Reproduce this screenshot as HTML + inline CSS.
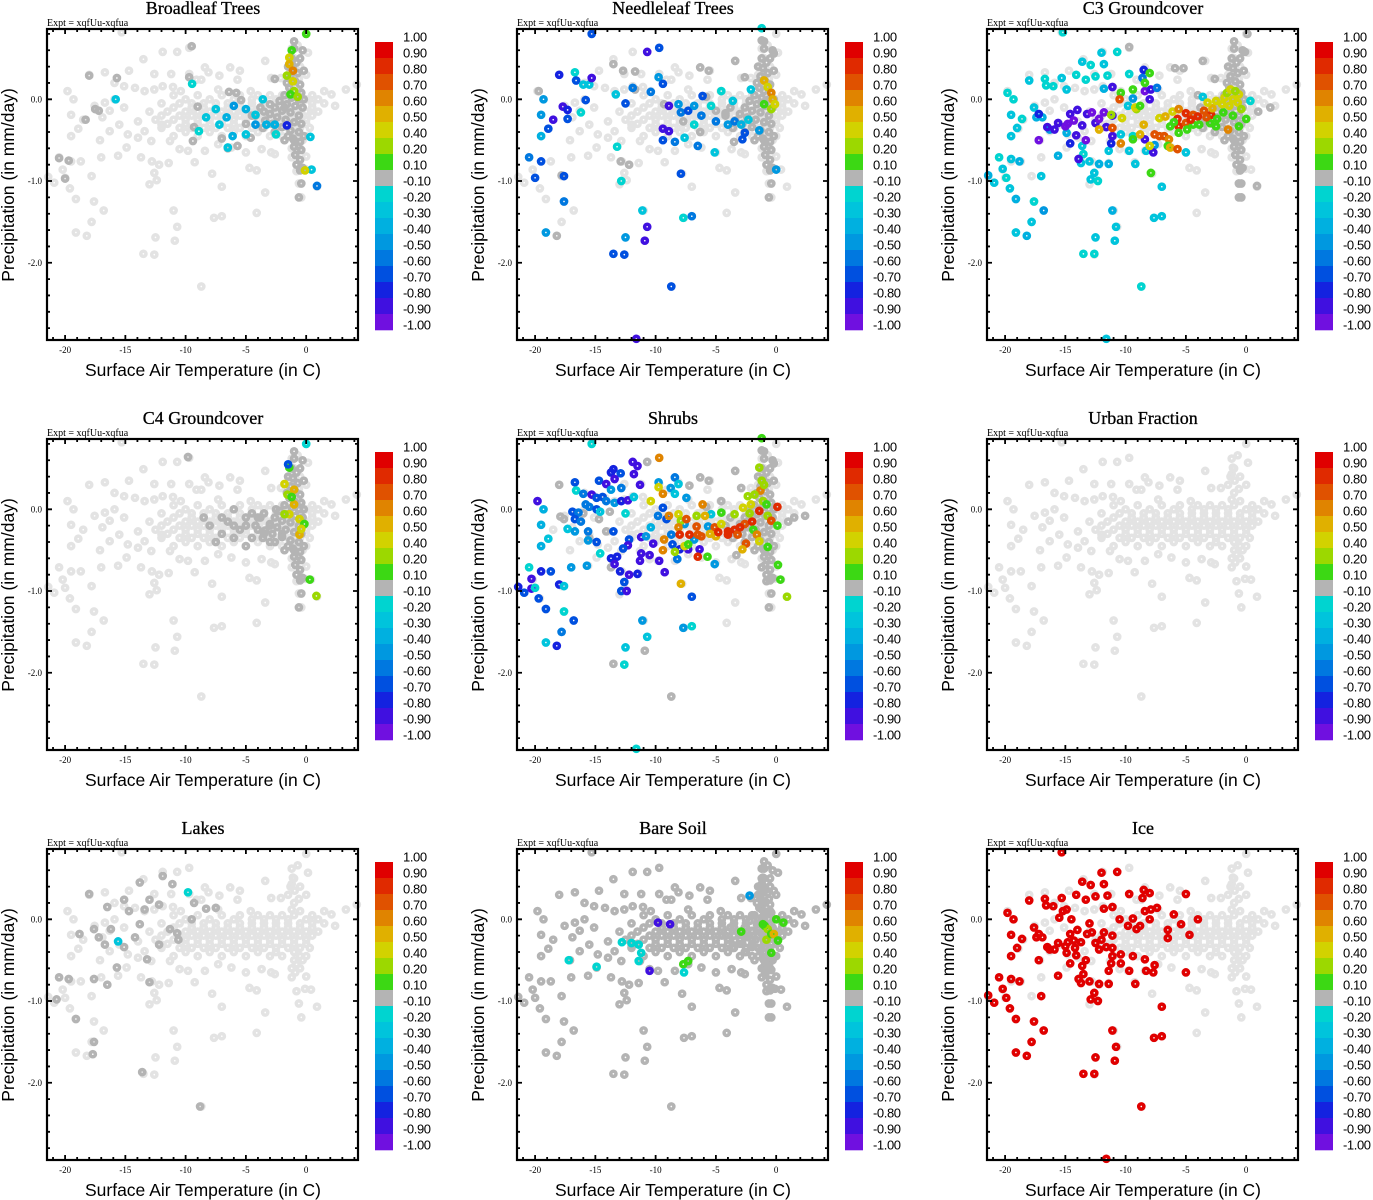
<!DOCTYPE html>
<html><head><meta charset="utf-8"><style>
html,body{margin:0;padding:0;background:#fff;}
svg{display:block;}
</style></head><body>
<svg id="fig" width="1373" height="1200" xmlns="http://www.w3.org/2000/svg"></svg>
<script>
// ---- data (temperature C, precipitation mm/day, correlation value) ----
const baseCloud = [[-15.3,0.82],[0.0,0.80],[-9.7,0.63],[-11.9,0.58],[-10.7,0.58],[-1.2,0.62],[0.15,0.57],[-13.5,0.49],[-3.4,0.47],[-18.0,0.30],[-16.7,0.33],[-14.7,0.35],[-8.4,0.39],[-7.2,0.29],[-6.3,0.39],[-5.5,0.35],[-19.8,0.10],[-19.3,0.0],[-19.5,-0.19],[-18.5,-0.25],[-18.9,-0.36],[-19.5,-0.45],[-17.1,-0.50],[-20.5,-0.71],[-19.5,-0.76],[-18.7,-0.76],[-20.2,-0.86],[-21.4,-0.95],[-20.9,-1.02],[-20.0,-0.96],[-19.6,-1.09],[-19.1,-1.22],[-17.6,-1.25],[-17.8,-0.94],[-16.8,-1.36],[-17.8,-1.50],[-19.1,-1.63],[-18.2,-1.67],[-17.0,-0.71],[-15.6,-0.69],[-14.9,-0.59],[-13.7,-0.71],[-12.8,-0.76],[-12.2,-0.80],[-11.4,-0.78],[-12.6,-0.90],[-12.4,-0.99],[-13.0,-1.04],[-11.0,-1.36],[-10.7,-1.56],[-10.9,-1.73],[-12.5,-1.69],[-13.5,-1.89],[-12.6,-1.90],[-8.7,-2.29],[-9.25,-0.77],[-7.8,-0.91],[-7.0,-1.07],[-7.65,-1.45],[-7.0,-1.43],[-4.7,-0.84],[-4.1,-0.87],[-3.4,-1.14],[-4.1,-1.39],[-5.0,-0.65],[-2.6,-0.67],[-1.2,-0.71],[-0.8,-0.88],[-0.6,-1.03],[-0.4,-1.20],[0.9,-1.07],[0.4,-0.86],[-0.1,-0.85],[2.4,-0.08],[3.3,0.12],[4.2,0.18],[2.1,0.06],[1.5,0.10],[-10.4,0.10],[-9.7,0.31],[-11.2,0.31],[-12.6,0.31],[-9.1,0.24],[-8.7,0.24],[-8.1,0.33],[-7.3,0.12],[-5.7,0.24],[-4.6,0.10],[-2.9,0.26],[-2.1,0.26],[-1.2,0.43],[-1.1,0.51],[-0.95,0.35],[-15.9,0.20],[-15.1,0.16],[-14.2,0.14],[-13.4,0.10],[-12.6,0.12],[-11.9,0.16],[-11.05,0.15],[-17.55,-0.08],[-16.7,-0.04],[-15.9,0.0],[-15.1,-0.10],[-16.3,-0.14],[-16.9,-0.22],[-15.5,-0.31],[-16.3,-0.39],[-14.8,-0.43],[-13.95,-0.27],[-13.4,-0.39],[-12.85,-0.51],[-13.95,-0.47],[-12.0,-0.31],[-11.3,-0.51],[-10.5,-0.61],[-9.8,-0.63],[-8.4,-0.63],[-7.3,-0.55],[-6.2,-0.59],[-3.7,-0.61],[-2.9,-0.65],
[-11,0.05],[-9,0.05],[-7,0.05],[-5.5,0.05],[-4,0.05],[-3,0.05],[-2,0.05],[-1,0.05],[0.5,0.05],
[-12,-0.05],[-10.5,-0.05],[-9.5,-0.05],[-8.5,-0.05],[-7.5,-0.05],[-6.5,-0.05],[-5.5,-0.05],[-4.5,-0.05],[-3.5,-0.05],[-2.5,-0.05],[-1.5,-0.05],[-0.5,-0.05],[0.5,-0.05],[1.5,-0.05],
[-13,-0.15],[-11.5,-0.15],[-10,-0.15],[-9,-0.15],[-8,-0.15],[-7,-0.15],[-6,-0.15],[-5,-0.15],[-4,-0.15],[-3,-0.15],[-2,-0.15],[-1,-0.15],[0,-0.15],[1,-0.15],
[-12.5,-0.25],[-11,-0.25],[-10,-0.25],[-9,-0.25],[-8,-0.25],[-7,-0.25],[-6,-0.25],[-5,-0.25],[-4,-0.25],[-3,-0.25],[-2,-0.25],[-1,-0.25],[0,-0.25],
[-12,-0.35],[-10.5,-0.35],[-9.5,-0.35],[-8.5,-0.35],[-7.5,-0.35],[-6.5,-0.35],[-5.5,-0.35],[-4.5,-0.35],[-3.5,-0.35],[-2.5,-0.35],[-1.5,-0.35],[-0.5,-0.35],[0.3,-0.35],
[-11,-0.45],[-9,-0.45],[-7,-0.45],[-5,-0.45],[-3,-0.45],[-2,-0.45],[-0.5,-0.45],
[-10,0.0],[-8,0.0],[-6,0.0],[-4.5,0.0],[-3.5,0.0],[-2.5,0.0],[-1.5,0.0],[0,0.0],[1,0.0],
[-11,-0.1],[-9.5,-0.1],[-8.5,-0.1],[-7.5,-0.1],[-6.5,-0.1],[-5.5,-0.1],[-4.5,-0.1],[-3.5,-0.1],[-2.5,-0.1],[-1.5,-0.1],[-0.5,-0.1],[0.5,-0.1],
[-12,-0.2],[-10.5,-0.2],[-9.5,-0.2],[-8.5,-0.2],[-7.5,-0.2],[-6.5,-0.2],[-5.5,-0.2],[-4.5,-0.2],[-3.5,-0.2],[-2.5,-0.2],[-1.5,-0.2],[-0.5,-0.2],[0.5,-0.2],
[-11.5,-0.3],[-10,-0.3],[-9,-0.3],[-8,-0.3],[-7,-0.3],[-6,-0.3],[-5,-0.3],[-4,-0.3],[-3,-0.3],[-2,-0.3],[-1,-0.3],[0,-0.3],
[-10,-0.4],[-8,-0.4],[-6,-0.4],[-4,-0.4],[-2.5,-0.4],[-1,-0.4],[0,-0.45],
[-1,0.5],[-0.5,0.4],[0,0.3],[-1,0.2],[-0.5,0.1],[-1,-0.5],[-0.5,-0.6],[0,-0.7],[-1.5,0.3],[-0.7,0.66],[-1.3,0.4],[-0.6,0.25],[-1.2,0.12],[-0.8,-0.55],[-0.9,-0.65],[-0.3,-0.5],[-1.2,-0.6]];

const spikeGray = [[-1,0.62],[-1.2,0.5],[-0.8,0.45],[-1.1,0.38],[-0.7,0.32],[-1.3,0.28],[-0.9,0.22],[-0.5,0.18],[-1.4,0.14],[-1,0.1],[-0.4,0.08],[-1.8,0.05],[-1.2,0.02],[-0.6,0],[-2.2,-0.02],[-1.6,-0.06],[-0.9,-0.08],[-0.3,-0.1],[-2.6,-0.1],[-2,-0.14],[-1.3,-0.16],[-0.6,-0.2],[-3,-0.18],[-2.4,-0.22],[-1.7,-0.25],[-1,-0.28],[-0.4,-0.3],[-3.4,-0.26],[-2.8,-0.3],[-2,-0.34],[-1.3,-0.38],[-0.6,-0.4],[-1.1,-0.48],[-0.5,-0.52],[-1,-0.58],[-0.4,-0.62],[-0.9,-0.68],[-0.5,-0.74],[-0.8,-0.8],[-0.3,-0.84],[-1.0,-0.5],[-1.5,-0.45],[-3.8,-0.1],[-4.2,-0.2],[-3.6,-0.35],[-1.0,0.71],[-0.3,0.6],[-0.4,-1.03],[-0.6,-1.2],[-0.5,-0.87],[-0.5,0.5],[-1.5,0.4],[-0.2,0.35],[-1.6,0.2],[-0.2,0.0],[-2.6,-0.4],[-1.8,-0.5],[-0.2,-0.45]];

const broadleafGray = [[-9.5,0.65],[-18,0.29],[-15.7,0.26],[-17.5,-0.12],[-17.2,-0.14],[-18.3,-0.25],[-20.5,-0.72],[-19.7,-0.75],[-20,-0.97],[-9.7,0.27],[-6.4,0.09],[-9.0,-0.09],[-9.3,-0.34],[-9.4,-0.51],[-7.0,-0.48],[-5.7,-0.57],[-6.5,-0.6],[-4.6,-0.47],[-2.6,0.25],[-5.8,0.08],[-5.4,-0.01],[-3.0,-0.06],[-1.8,-0.1],[-5,-0.3],[-4.5,-0.2],[-3.5,-0.15]];
const broadleafPts = [[-9.46,0.19,-0.2],[-15.8,0.0,-0.25],[-8.3,-0.22,-0.3],[-7.5,-0.12,-0.3],[-8.9,-0.39,-0.2],[-7.2,-0.31,-0.3],[-6.6,-0.22,-0.35],[-6.1,-0.45,-0.4],[-6.0,-0.08,-0.45],[-5.0,-0.12,-0.4],[-5.0,-0.43,-0.3],[-4.2,-0.31,-0.5],[-3.6,0.0,-0.3],[-3.3,-0.31,-0.4],[-2.6,-0.31,-0.35],[-2.5,-0.43,-0.2],[-6.5,-0.59,-0.3],[-1.6,-0.32,-0.8],[0.35,-0.46,-0.25],[0.9,-1.06,-0.55],[0.45,-0.86,-0.3],[-0.1,-0.87,0.45],[0.0,0.80,0.1],[-1.2,0.60,0.15],[-1.4,0.51,0.45],[-1.4,0.43,0.5],[-1.1,0.35,0.6],[-1.6,0.29,0.25],[-1.1,0.22,0.45],[-1.0,0.10,0.2],[-1.3,0.06,0.15],[-0.7,0.03,0.25],[-4.2,-0.19,-0.25]];

const needleGray = [[-19.7,0.1],[-17.8,-0.93],[-18.2,-1.67],[-13.5,0.43],[-12.7,0.35],[-11.7,0.34],[-11.7,0.12],[-12.9,-0.76],[-12.2,-0.8],[-9.3,-0.06],[-6.3,0.39],[-5.6,0.35],[-5.8,0.03],[-3.4,0.47],[-1.2,0.72],[-0.2,0.56],[-2.6,0.27],[-4.2,-0.17],[-5.0,-0.14],[-6.3,-0.4],[-3.5,-0.52],[-7.7,-0.27]];
const needlePts = [[-15.3,0.80,-0.65],[-10.7,0.58,-0.85],[-9.7,0.63,-0.7],[-18.0,0.30,-0.8],[-16.7,0.33,-0.2],[-16.6,0.23,-0.7],[-16.0,0.18,-0.25],[-15.5,0.18,-0.3],[-15.3,0.26,-0.85],[-19.3,0.0,-0.5],[-19.5,-0.19,-0.45],[-18.5,-0.25,-0.9],[-17.7,-0.09,-0.85],[-17.3,-0.13,-0.8],[-17.3,-0.24,-0.65],[-18.9,-0.36,-0.7],[-19.5,-0.45,-0.4],[-15.8,-0.01,-0.7],[-16.2,-0.16,-0.2],[-20.5,-0.71,-0.6],[-19.5,-0.76,-0.7],[-20.0,-0.96,-0.65],[-17.6,-0.94,-0.7],[-17.6,-1.25,-0.55],[-19.1,-1.63,-0.45],[-13.3,0.06,-0.25],[-13.2,-0.58,-0.2],[-12.85,-1.0,-0.2],[-12.5,-0.05,-0.65],[-11.9,0.14,-0.6],[-10.4,0.09,-0.6],[-9.75,0.27,-0.5],[-9.4,0.19,-0.65],[-8.9,-0.08,-0.9],[-9.4,-0.36,-0.85],[-8.9,-0.39,-0.85],[-9.4,-0.50,-0.65],[-8.4,-0.52,-0.6],[-7.9,-0.91,-0.65],[-11.1,-1.36,-0.3],[-10.7,-1.56,-0.85],[-10.9,-1.73,-0.85],[-12.5,-1.69,-0.5],[-13.5,-1.89,-0.65],[-12.6,-1.90,-0.65],[-8.7,-2.29,-0.65],[-11.6,-2.93,-0.85],[-7.7,-1.45,-0.2],[-7.0,-1.43,-0.6],[-1.2,0.87,-0.2],[-8.1,-0.06,-0.5],[-7.9,-0.16,-0.6],[-7.3,-0.14,-0.7],[-6.8,-0.08,-0.5],[-6.1,0.04,-0.7],[-6.2,-0.2,-0.55],[-6.8,-0.31,-0.2],[-6.5,-0.57,-0.6],[-5.1,-0.65,-0.25],[-5.0,-0.27,-0.6],[-4.55,0.10,-0.2],[-4.0,-0.31,-0.5],[-3.6,-0.02,-0.25],[-3.45,-0.27,-0.55],[-2.9,-0.31,-0.4],[-2.6,-0.41,-0.7],[-2.8,-0.49,-0.65],[-2.3,-0.25,-0.3],[-2.1,0.12,-0.3],[-1.4,-0.38,-0.5],[0.0,-0.86,-0.45],[-7.6,-0.47,-0.3],[-5.4,-0.08,-0.2],[-1.0,0.23,0.55],[-0.7,0.15,0.45],[-0.4,0.08,0.6],[-0.3,0.0,0.55],[-1.0,-0.06,0.15],[-0.4,-0.12,0.25],[-0.1,-0.06,0.4]];

const c3Gray = [[-9.7,0.64],[-3.6,0.47],[-5.2,0.38],[-5.9,0.38],[-2.6,0.25],[-4.0,0.05],[1.0,-0.15],[2.0,-0.1],[0.9,-1.06],[-0.4,-1.2],[-0.6,-1.03],[-0.5,-0.87],[0.1,0.80],[-0.1,0.58]];
const c3Pts = [[-15.2,0.82,-0.2],[-18.0,0.23,-0.25],[-16.7,0.25,-0.2],[-16.6,0.17,-0.2],[-16.0,0.16,-0.2],[-15.3,0.26,-0.25],[-14.9,0.12,-0.3],[-14.1,0.30,-0.2],[-13.6,0.46,-0.3],[-12.9,0.42,-0.2],[-13.3,0.24,-0.2],[-12.5,0.28,-0.2],[-12.0,0.57,-0.3],[-11.8,0.43,-0.25],[-10.7,0.58,-0.2],[-11.5,0.29,-0.2],[-11.8,0.13,-0.35],[-19.8,0.08,-0.2],[-19.3,0.0,-0.2],[-19.5,-0.19,-0.25],[-18.6,-0.24,-0.2],[-19.0,-0.35,-0.3],[-19.5,-0.45,-0.25],[-17.6,-0.10,-0.3],[-17.4,-0.22,-0.35],[-16.9,-0.22,-0.4],[-16.3,-0.37,-0.45],[-15.6,-0.69,-0.35],[-14.9,-0.41,-0.4],[-20.5,-0.71,-0.2],[-19.5,-0.73,-0.3],[-18.8,-0.76,-0.35],[-20.2,-0.85,-0.25],[-21.4,-0.93,-0.35],[-20.9,-1.02,-0.3],[-19.9,-0.96,-0.2],[-19.6,-1.09,-0.3],[-19.1,-1.22,-0.4],[-17.6,-1.25,-0.2],[-17.8,-1.5,-0.3],[-19.1,-1.63,-0.3],[-18.2,-1.67,-0.4],[-16.8,-1.36,-0.5],[-17.0,-0.94,-0.3],[-13.5,-1.89,-0.2],[-12.6,-1.89,-0.2],[-12.5,-1.69,-0.25],[-10.9,-1.73,-0.25],[-10.8,-1.56,-0.3],[-11.1,-1.36,-0.35],[-8.7,-2.29,-0.2],[-11.6,-2.93,-0.3],[-12.6,-0.90,-0.3],[-12.9,-0.98,-0.25],[-12.3,-1.0,-0.2],[-13.7,-0.78,-0.25],[-13.5,-0.67,-0.2],[-13.6,-0.57,-0.3],[-13.0,-0.76,-0.3],[-12.2,-0.79,-0.35],[-11.4,-0.79,-0.4],[-11.4,-0.63,-0.3],[-10.4,-0.43,-0.25],[-9.7,-0.63,-0.3],[-9.2,-0.79,-0.3],[-9.4,-0.45,-0.2],[-9.8,-0.08,-0.3],[-9.4,0.01,-0.45],[-9.7,0.31,-0.2],[-8.3,-0.63,-0.25],[-7.6,-0.56,-0.5],[-7.0,-1.07,-0.3],[-7.65,-1.45,-0.3],[-7.0,-1.43,-0.3],[-5.0,-0.65,-0.3],[0.35,-0.02,-0.2],[-3.6,0.03,-0.25],
[-17.2,-0.18,-0.75],[-16.5,-0.34,-0.9],[-17.2,-0.5,-0.95],[-15.9,-0.37,-0.9],[-15.0,-0.33,-0.95],[-14.6,-0.18,-0.85],[-14.3,-0.26,-0.95],[-14.0,-0.13,-0.9],[-14.1,-0.44,-0.85],[-14.6,-0.54,-0.8],[-13.9,-0.73,-0.9],[-13.3,-0.50,-0.95],[-13.2,-0.18,-0.9],[-12.8,-0.16,-0.95],[-12.5,-0.29,-0.9],[-11.8,-0.16,-0.95],[-11.6,-0.34,-0.9],[-11.1,-0.20,-0.85],[-11.1,0.15,-0.85],[-11.2,-0.54,-0.8],[-8.4,-0.49,-0.9],[-8.0,0.0,-0.9],[-7.7,-0.65,-0.9],[-8.4,0.10,-0.95],[-7.9,0.12,-0.9],[-8.5,0.36,-0.8],[-7.4,0.14,-0.6],[-8.6,0.26,-0.6],[-15.6,-0.29,-0.9],[-11.1,-0.45,-0.9],[-14.8,-0.3,-0.95],[-13.6,-0.32,-0.9],[-12.2,-0.24,-0.95],
[-10.4,0.08,0.1],[-11.2,-0.19,0.2],[-10.3,-0.23,0.4],[-10.5,0.0,0.7],[-11.1,-0.35,0.7],[-12.2,-0.37,0.5],[-10.4,-0.54,0.6],[-9.4,0.12,0.1],[-9.1,-0.12,0.3],[-9.2,-0.1,0.45],[-8.8,-0.08,0.15],[-8.4,0.20,0.15],[-8.0,0.32,0.1],[-8.5,-0.31,0.55],[-9.4,-0.49,0.1],[-8.8,-0.43,0.55],[-8.0,-0.57,0.45],[-7.9,-0.9,0.1],[-7.6,-0.43,0.75],[-7.2,-0.45,0.7],[-6.8,-0.45,0.75],[-6.4,-0.49,0.6],[-6.5,-0.57,0.15],[-6.3,-0.59,0.55],[-5.7,-0.61,0.75],[-7.2,-0.23,0.4],[-6.7,-0.21,0.55],[-6.1,-0.15,0.4],[-5.6,-0.12,0.6],[-5.7,-0.24,0.8],[-5.6,-0.33,0.8],[-5.0,-0.29,0.7],[-5.0,-0.17,0.8],[-4.4,-0.19,0.75],[-4.0,-0.21,0.8],[-4.4,-0.31,0.1],[-5.6,-0.41,0.15],[-3.9,-0.31,0.1],[-3.5,-0.14,0.75],[-2.9,-0.19,0.8],[-2.8,-0.11,0.5],[-3.2,-0.04,0.4],[-2.5,-0.02,0.45],[-2.4,-0.24,0.15],[-2.5,-0.33,0.1],[-1.8,0.02,0.45],[-1.6,0.08,0.35],[-1.4,-0.08,0.4],[-1.1,0.0,0.45],[-0.7,-0.04,0.4],[-0.6,0.06,0.45],[-0.4,-0.12,0.3],[-1.5,-0.37,0.6],[-1.1,-0.2,0.15],[-0.6,-0.33,0.1],[0.0,-0.24,0.1],[-1.9,-0.16,0.1],[-3.0,-0.29,0.15],[-6.3,-0.33,0.15],[-4.9,-0.37,0.15],[-4.6,-0.25,0.8],[-3.3,-0.22,0.7],[-6.0,-0.28,0.15],[-2.0,-0.06,0.4],[-1.3,0.12,0.45],[-0.9,0.1,0.35]];

const c4Gray = [[-9.8,0.64],[-8,-0.2],[-7,-0.3],[-6.5,-0.15],[-6,-0.35],[-5.5,-0.25],[-5,-0.1],[-4.5,-0.35],[-4,-0.25],[-3.5,-0.05],[-3,-0.4],[-7.5,-0.4],[-8.5,-0.1],[-5,-0.45],[-2.5,0.0],[-6,0.0],[-7,-0.1],[-6,-0.2],[-5,-0.2],[-4,-0.1],[-3,-0.2],[-2,-0.3],[-4.5,-0.05],[-3.5,-0.3]];
const c4Pts = [[0.0,0.8,-0.2],[-1.4,0.51,0.1],[-1.8,0.31,0.45],[-1.55,0.18,0.3],[-1.0,0.06,0.5],[-1.4,-0.06,0.4],[-0.55,-0.12,0.45],[-0.15,-0.18,0.1],[-1.8,-0.06,0.2],[-0.55,-0.31,0.5],[0.3,-0.86,0.15],[0.85,-1.06,0.2],[-1.0,0.24,0.55],[-0.4,-0.24,0.4],[-1.2,0.15,0.1],[-1.5,0.55,-0.7]];

const shrubGray = [[-10.7,0.58],[-18.0,0.30],[-17.9,-0.09],[-17.6,-0.12],[-16.0,-0.05],[-14.7,-0.12],[-13.8,-0.03],[-15.5,-0.35],[-14.1,-0.27],[-13.7,-0.71],[-13.5,-1.89],[-10.9,-1.73],[-8.7,-2.29],[-6.3,0.39],[-5.6,0.35],[-7.2,0.29],[-3.4,0.47],[-2.9,0.26],[-0.2,0.56],[-4.55,0.10],[-5.8,0.03],[-3.3,-0.56],[1.5,-0.1],[2.4,-0.08],[1.0,-0.15],[-1.2,0.72],[-0.8,-0.88],[-0.4,-0.85],[-1.2,-0.71]];
const shrubPts = [[-15.3,0.80,-0.2],[-11.9,0.58,-0.85],[-11.5,0.53,-0.9],[-13.5,0.49,-0.75],[-13.7,0.45,-0.8],[-12.9,0.44,-0.7],[-11.8,0.43,-0.85],[-14.7,0.35,-0.65],[-16.7,0.33,-0.7],[-14.1,0.31,-0.85],[-13.4,0.37,-0.9],[-12.85,0.26,-0.55],[-11.3,0.30,-0.9],[-13.7,0.24,-0.5],[-16.6,0.23,-0.2],[-16.0,0.19,-0.6],[-15.3,0.18,-0.85],[-14.9,0.14,-0.7],[-14.4,0.15,-0.65],[-19.8,0.10,-0.85],[-19.3,0.0,-0.35],[-15.8,0.06,-0.6],[-15.5,0.03,-0.55],[-14.9,0.0,-0.7],[-14.6,-0.03,-0.25],[-14.1,0.10,-0.6],[-13.4,0.08,-0.5],[-12.85,0.10,-0.8],[-12.3,0.11,-0.85],[-11.8,0.15,-0.3],[-12.5,-0.05,-0.2],[-16.9,-0.03,-0.7],[-16.4,-0.04,-0.6],[-16.7,-0.12,-0.65],[-16.2,-0.15,-0.6],[-17.3,-0.24,-0.25],[-16.7,-0.27,-0.45],[-15.6,-0.27,-0.55],[-15.6,-0.38,-0.45],[-14.9,-0.40,-0.65],[-19.5,-0.19,-0.35],[-18.9,-0.36,-0.25],[-19.5,-0.45,-0.4],[-13.5,-0.27,-0.7],[-12.2,-0.37,-0.7],[-12.3,-0.44,-0.9],[-12.7,-0.48,-0.7],[-14.6,-0.54,-0.2],[-13.7,-0.6,-0.8],[-13.2,-0.58,-0.75],[-13.4,-0.67,-0.9],[-11.2,-0.54,-0.85],[-11.3,-0.63,-0.9],[-10.5,-0.56,-0.85],[-9.7,-0.63,-0.9],[-10.2,-0.42,-0.85],[-11.2,-0.34,-0.9],[-10.8,-0.33,-0.45],[-20.5,-0.71,-0.2],[-20.3,-0.85,-0.9],[-19.5,-0.76,-0.75],[-18.7,-0.76,-0.65],[-21.4,-0.95,-0.8],[-20.9,-1.02,-0.7],[-20.3,-0.97,-0.85],[-20.0,-0.96,-0.2],[-19.7,-1.09,-0.65],[-19.1,-1.22,-0.7],[-17.6,-1.25,-0.2],[-18.0,-0.92,-0.8],[-17.6,-0.94,-0.3],[-17.0,-0.71,-0.45],[-15.7,-0.69,-0.5],[-12.95,-0.76,-0.75],[-12.2,-0.80,-0.85],[-11.5,-0.79,-0.75],[-12.6,-0.89,-0.7],[-12.85,-1.0,-0.7],[-12.4,-1.0,-0.9],[-16.8,-1.36,-0.65],[-17.8,-1.5,-0.6],[-19.1,-1.63,-0.3],[-18.2,-1.67,-0.75],[-11.1,-1.36,-0.45],[-10.7,-1.56,-0.25],[-12.5,-1.69,-0.25],[-12.6,-1.90,-0.2],[-11.6,-2.93,-0.2],[-9.25,-0.77,-0.85],[-7.0,-1.07,-0.7],[-7.7,-1.45,-0.5],[-7.0,-1.43,-0.2],[-5.1,-0.67,-0.5],[-8.4,0.39,-0.6],[-8.1,0.31,-0.3],[-8.75,0.26,-0.5],[-8.4,0.19,-0.25],[-7.45,0.14,-0.5],[-9.75,0.33,-0.5],[-9.4,0.02,-0.7],[-9.8,-0.08,-0.55],[-10.4,-0.22,-0.4],[-9.1,-0.12,-0.7],[-8.7,-0.31,-0.6],[-8.6,-0.43,-0.7],[-8.0,-0.49,-0.75],[-8.2,-0.61,-0.55],[-7.3,-0.49,-0.85],[-6.8,-0.37,-0.5],[-6.35,-0.49,-0.9],[-5.65,-0.21,-0.5],[-5.4,-0.06,-0.3],[-7.6,-0.18,-0.5],
[-9.7,0.63,0.6],[-10.4,0.10,0.45],[-9.75,0.27,0.45],[-9.4,0.19,0.6],[-8.9,-0.08,0.65],[-9.3,-0.37,0.65],[-9.4,-0.50,0.6],[-8.4,-0.52,0.2],[-7.9,-0.91,0.5],[-8.1,-0.06,0.4],[-7.9,-0.14,0.35],[-7.45,-0.12,0.75],[-8.1,-0.22,0.65],[-8.0,-0.31,0.8],[-7.2,-0.31,0.8],[-6.6,-0.21,0.75],[-6.5,-0.31,0.7],[-6.2,-0.33,0.75],[-7.6,-0.45,0.45],[-7.3,-0.43,0.1],[-6.6,-0.08,0.3],[-6.1,0.06,0.6],[-5.9,-0.08,0.55],[-6.5,-0.58,0.8],[-5.7,-0.58,0.1],[-5.1,-0.22,0.75],[-5.0,-0.33,0.5],[-4.55,-0.04,0.1],[-4.55,-0.18,0.45],[-4.0,-0.27,0.8],[-4.0,-0.31,0.85],[-3.45,-0.25,0.85],[-3.2,-0.31,0.75],[-3.45,-0.06,0.3],[-2.75,0.02,0.45],[-2.6,-0.18,0.7],[-2.5,-0.42,0.75],[-2.8,-0.49,0.5],[-2.1,0.06,0.4],[-2.0,-0.15,0.8],[-1.9,-0.25,0.1],[-1.6,-0.31,0.6],[-1.4,-0.02,0.8],[-1.4,-0.39,0.45],[-1.3,0.23,0.6],[-1.2,0.35,0.2],[-1.4,0.51,0.2],[-1.1,0.10,0.2],[-0.8,0.06,0.15],[-0.7,-0.08,0.2],[-0.4,-0.14,0.75],[0.1,0.03,0.8],[0.1,-0.2,0.1],[-0.7,-0.46,0.1],[0.15,-0.68,0.1],[0.35,-0.86,0.15],[0.9,-1.07,0.25],[-1.2,0.87,0.1],[-1.8,0.18,0.3],[-2.35,0.16,0.2],[-4.8,-0.28,0.8],[-3.0,-0.22,0.8],[-5.5,-0.3,0.5],[-2.2,-0.05,0.3],[-1.0,0.3,0.25]];

const lakesGray = [[-18.0,0.31],[-15.1,0.24],[-13.8,0.45],[-13.0,0.24],[-11.9,0.53],[-11.1,0.43],[-16.5,0.15],[-14.7,0.10],[-13.4,0.12],[-12.2,0.18],[-11.3,-0.12],[-13.8,-0.06],[-16.2,-0.12],[-17.6,-0.12],[-17.2,-0.22],[-18.8,-0.18],[-15.1,-0.34],[-13.2,-0.49],[-16.7,-0.31],[-15.7,-0.59],[-13.0,-0.77],[-16.5,-0.80],[-17.6,-0.73],[-20.5,-0.71],[-19.7,-0.73],[-20.7,-0.98],[-19.1,-1.22],[-17.6,-1.5],[-17.7,-1.65],[-13.6,-1.87],[-8.8,-2.29],[-14.2,-0.22],[-12.2,-0.31],[-9.3,0.2],[-8.3,0.13],[-7.5,0.14],[-9.5,0.0],[-10.7,-0.17],[-10.6,-0.25]];
const lakesPts = [[-9.8,0.33,-0.2],[-15.6,-0.27,-0.25]];

const soilPts = [[-17.2,-0.50,-0.2],[-14.9,-0.58,-0.2],[-12.8,-0.28,-0.2],[-12.0,-0.29,-0.2],[-11.4,-0.31,-0.2],[-11.2,-0.41,-0.2],[-11.4,-0.51,-0.2],[-10.5,-0.63,-0.9],[-9.8,-0.04,-0.9],[-8.8,-0.06,-0.9],[-7.7,-0.55,0.1],[-7.3,-0.51,0.1],[-7.65,-0.65,-0.2],[-2.9,-0.15,0.1],[-2.2,0.29,-0.5],[-0.95,-0.08,0.1],[-0.7,-0.12,0.3],[-0.8,-0.25,0.35],[-0.4,-0.18,0.15],[-0.2,-0.18,0.5],[0.15,-0.26,0.1],[0.0,0.0,0.1],[0.6,-0.04,0.1],[-0.4,-0.41,0.1],[-1.1,-0.06,0.15]];

const icePts = [[-15.3,0.82,0.95],[-18.0,0.23,0.95],[-16.7,0.25,0.95],[-16.6,0.17,0.95],[-16.0,0.16,0.95],[-15.3,0.26,0.95],[-14.9,0.12,0.95],[-14.1,0.30,0.95],[-13.6,0.46,0.95],[-12.9,0.42,0.95],[-13.3,0.24,0.95],[-12.5,0.28,0.95],[-12.0,0.57,0.95],[-11.8,0.43,0.95],[-10.7,0.58,0.95],[-11.5,0.29,0.95],[-11.8,0.13,0.95],[-19.8,0.08,0.95],[-19.3,0.0,0.95],[-19.5,-0.19,0.95],[-18.6,-0.24,0.95],[-19.0,-0.35,0.95],[-19.5,-0.45,0.95],[-17.6,-0.10,0.95],[-17.4,-0.22,0.95],[-16.9,-0.22,0.95],[-16.3,-0.37,0.95],[-15.6,-0.69,0.95],[-14.9,-0.41,0.95],[-20.5,-0.71,0.95],[-19.5,-0.73,0.95],[-18.8,-0.76,0.95],[-20.2,-0.85,0.95],[-21.4,-0.93,0.95],[-20.9,-1.02,0.95],[-19.9,-0.96,0.95],[-19.6,-1.09,0.95],[-19.1,-1.22,0.95],[-17.6,-1.25,0.95],[-17.8,-1.5,0.95],[-19.1,-1.63,0.95],[-18.2,-1.67,0.95],[-16.8,-1.36,0.95],[-17.0,-0.94,0.95],[-13.5,-1.89,0.95],[-12.6,-1.89,0.95],[-12.5,-1.69,0.95],[-10.9,-1.73,0.95],[-10.8,-1.56,0.95],[-11.1,-1.36,0.95],[-8.7,-2.29,0.95],[-11.6,-2.93,0.95],[-12.6,-0.90,0.95],[-12.9,-0.98,0.95],[-12.3,-1.0,0.95],[-13.7,-0.78,0.95],[-13.5,-0.67,0.95],[-13.6,-0.57,0.95],[-13.0,-0.76,0.95],[-12.2,-0.79,0.95],[-11.4,-0.79,0.95],[-11.4,-0.63,0.95],[-10.4,-0.43,0.95],[-9.7,-0.63,0.95],[-9.2,-0.79,0.95],[-9.4,-0.45,0.95],[-9.8,-0.08,0.95],[-9.4,0.01,0.95],[-9.7,0.31,0.95],[-8.3,-0.63,0.95],[-7.6,-0.56,0.95],[-7.0,-1.07,0.95],[-7.65,-1.45,0.95],[-7.0,-1.43,0.95],[-5.0,-0.65,0.95],[-17.2,-0.18,0.95],[-16.5,-0.34,0.95],[-17.2,-0.5,0.95],[-15.9,-0.37,0.95],[-15.0,-0.33,0.95],[-14.6,-0.18,0.95],[-14.3,-0.26,0.95],[-14.0,-0.13,0.95],[-14.1,-0.44,0.95],[-14.6,-0.54,0.95],[-13.9,-0.73,0.95],[-13.3,-0.50,0.95],[-13.2,-0.18,0.95],[-12.8,-0.16,0.95],[-12.5,-0.29,0.95],[-11.8,-0.16,0.95],[-11.6,-0.34,0.95],[-11.1,-0.20,0.95],[-11.1,0.15,0.95],[-11.2,-0.54,0.95],[-8.4,-0.49,0.95],[-8.0,0.0,0.95],[-7.7,-0.65,0.95],[-8.4,0.10,0.95],[-7.9,0.12,0.95],[-8.5,0.36,0.95],[-7.4,0.14,0.95],[-8.6,0.26,0.95],[-15.6,-0.29,0.95],[-11.1,-0.45,0.95],[-10.5,0.0,0.95],[-11.1,-0.35,0.95],[-12.2,-0.37,0.95],[-10.4,-0.54,0.95],[-8.8,-0.08,0.95],[-8.0,0.32,0.95],[-9.1,-0.12,0.95],[-6.5,-0.13,0.95],[-6.5,-0.23,0.95],[-6.0,0.06,0.95],[-5.4,-0.06,0.95],[-5.0,0.31,0.95],[-4.0,0.0,0.95],[-4.7,-0.19,0.95],[-14.5,0.0,0.95],[-15.5,0.02,0.95],[-14.2,-0.35,0.95],[-13.7,-0.28,0.95],[-14.8,-0.28,0.95],[-13.0,-0.05,0.95],[-12.0,-0.25,0.95],[-15.2,0.1,0.95]];

const cbLabels = ["1.00","0.90","0.80","0.70","0.60","0.50","0.40","0.20","0.10","-0.10","-0.20","-0.30","-0.40","-0.50","-0.60","-0.70","-0.80","-0.90","-1.00"];
const cbEdges = [1,0.9,0.8,0.7,0.6,0.5,0.4,0.2,0.1,-0.1,-0.2,-0.3,-0.4,-0.5,-0.6,-0.7,-0.8,-0.9,-1.0];
const cbColors = ["#e00000","#e02a00","#e05200","#e08400","#e0b000","#d2d200","#9cd800","#3cd814","#b4b4b4","#00d4d0","#00c4dc","#00b0e0","#0098e0","#0078e0","#0050e0","#1422e0","#4010e0","#7010e0"];
const xTicks = [-20,-15,-10,-5,0];
const yTicks = [0,-1,-2];

const panels = [
 {name:"broadleaf-trees",title:"Broadleaf Trees",base:"#e3e3e3",spike:true,gray:broadleafGray,pts:broadleafPts},
 {name:"needleleaf-trees",title:"Needleleaf Trees",base:"#e3e3e3",spike:true,gray:needleGray,pts:needlePts},
 {name:"c3-groundcover",title:"C3 Groundcover",base:"#e3e3e3",spike:true,gray:c3Gray,pts:c3Pts},
 {name:"c4-groundcover",title:"C4 Groundcover",base:"#e3e3e3",spike:true,gray:c4Gray,pts:c4Pts},
 {name:"shrubs",title:"Shrubs",base:"#e3e3e3",spike:true,gray:shrubGray,pts:shrubPts},
 {name:"urban-fraction",title:"Urban Fraction",base:"#e3e3e3",spike:false,gray:[],pts:[]},
 {name:"lakes",title:"Lakes",base:"#e3e3e3",spike:false,gray:lakesGray,pts:lakesPts},
 {name:"bare-soil",title:"Bare Soil",base:"#b4b4b4",spike:true,gray:[],pts:soilPts},
 {name:"ice",title:"Ice",base:"#e3e3e3",spike:false,gray:[],pts:icePts}
];

// ---- drawing ----
const NS="http://www.w3.org/2000/svg";
const svg=document.getElementById('fig');
function mk(tag,attrs,parent){const e=document.createElementNS(NS,tag);for(const k in attrs)e.setAttribute(k,attrs[k]);parent.appendChild(e);return e;}
const X0=47,X1=358,Y0=29,Y1=340,TMIN=-21.5,TMAX=4.3,PMAX=0.86,PMIN=-2.945;
function xs(t){return X0+(t-TMIN)/(TMAX-TMIN)*(X1-X0);}
function ys(p){return Y0+(PMAX-p)/(PMAX-PMIN)*(Y1-Y0);}
function colorFor(v){for(let i=0;i<cbColors.length;i++){if(v<=cbEdges[i]&&v>=cbEdges[i+1])return cbColors[i];}return v>1?cbColors[0]:cbColors[cbColors.length-1];}
function dot(g,t,p,col,nm){
  const c=mk('circle',{cx:xs(t).toFixed(1),cy:ys(p).toFixed(1),r:2.6,fill:'none',stroke:col,'stroke-width':3.5},g);
  
  
}
panels.forEach((pn,i)=>{
  const ox=(i%3)*470, oy=Math.floor(i/3)*410;
  const g=mk('g',{transform:`translate(${ox},${oy})`},svg);
  
  
  const ti=mk('text',{x:203,y:14,'text-anchor':'middle','font-family':'Liberation Serif, serif','font-size':18,'stroke':'#000','stroke-width':0.3},g);ti.textContent=pn.title;
  
  
  const ex=mk('text',{x:47,y:26,'font-family':'Liberation Serif, serif','font-size':10},g);ex.textContent='Expt = xqfUu-xqfua';
  
  
  const cp=mk('clipPath',{id:'cp'+i},g);mk('rect',{x:X0-6,y:Y0-6,width:X1-X0+12,height:Y1-Y0+12},cp);
  const pg=mk('g',{'clip-path':`url(#cp${i})`},g);
  
  
  baseCloud.forEach(d=>dot(pg,d[0],d[1],pn.base,'background-point'));
  if(pn.spike) spikeGray.forEach(d=>dot(pg,d[0],d[1],'#b4b4b4','neutral-point'));
  pn.gray.forEach(d=>dot(pg,d[0],d[1],'#b4b4b4','neutral-point'));
  pn.pts.forEach(d=>dot(pg,d[0],d[1],colorFor(d[2]),'colored-point'));
  const fr=mk('rect',{x:X0,y:Y0,width:X1-X0,height:Y1-Y0,fill:'none',stroke:'#000','stroke-width':2.2},g);
  
  
  let tk='';
  for(let t=-21;t<=4;t++){const x=xs(t),L=(t%5===0)?5:3;tk+=`M${x},${Y1}v${-L}M${x},${Y0}v${L}`;}
  for(let k=-14;k<=4;k++){const p=k*0.2,y=ys(p),L=(k%5===0)?5:3;tk+=`M${X0},${y}h${L}M${X1},${y}h${-L}`;}
  const tp=mk('path',{d:tk,stroke:'#000','stroke-width':1.8,fill:'none'},g);
  
  
  xTicks.forEach(t=>{const e=mk('text',{x:xs(t),y:353,'text-anchor':'middle','font-family':'Liberation Serif, serif','font-size':9},g);e.textContent=t;
    
    });
  yTicks.forEach(p=>{const e=mk('text',{x:42,y:ys(p)+3,'text-anchor':'end','font-family':'Liberation Serif, serif','font-size':9},g);e.textContent=p.toFixed(1);
    
    });
  const xt=mk('text',{x:203,y:376,'text-anchor':'middle','font-family':'Liberation Sans, sans-serif','font-size':17.5},g);xt.textContent='Surface Air Temperature (in C)';
  
  
  const yt=mk('text',{x:0,y:0,transform:'translate(14,185) rotate(-90)','text-anchor':'middle','font-family':'Liberation Sans, sans-serif','font-size':17.5},g);yt.textContent='Precipitation (in mm/day)';
  
  
  const cb=mk('g',{},g);
  
  
  cbColors.forEach((c,j)=>{const r=mk('rect',{x:375,y:42+16*j,width:18,height:16.3,fill:c},cb);
    
    });
  cbLabels.forEach((l,j)=>{const e=mk('text',{x:403,y:41.5+16*j,'font-family':'Liberation Sans, sans-serif','font-size':13,'letter-spacing':-0.4},cb);e.textContent=l;
    
    });
});
</script>
</body></html>
